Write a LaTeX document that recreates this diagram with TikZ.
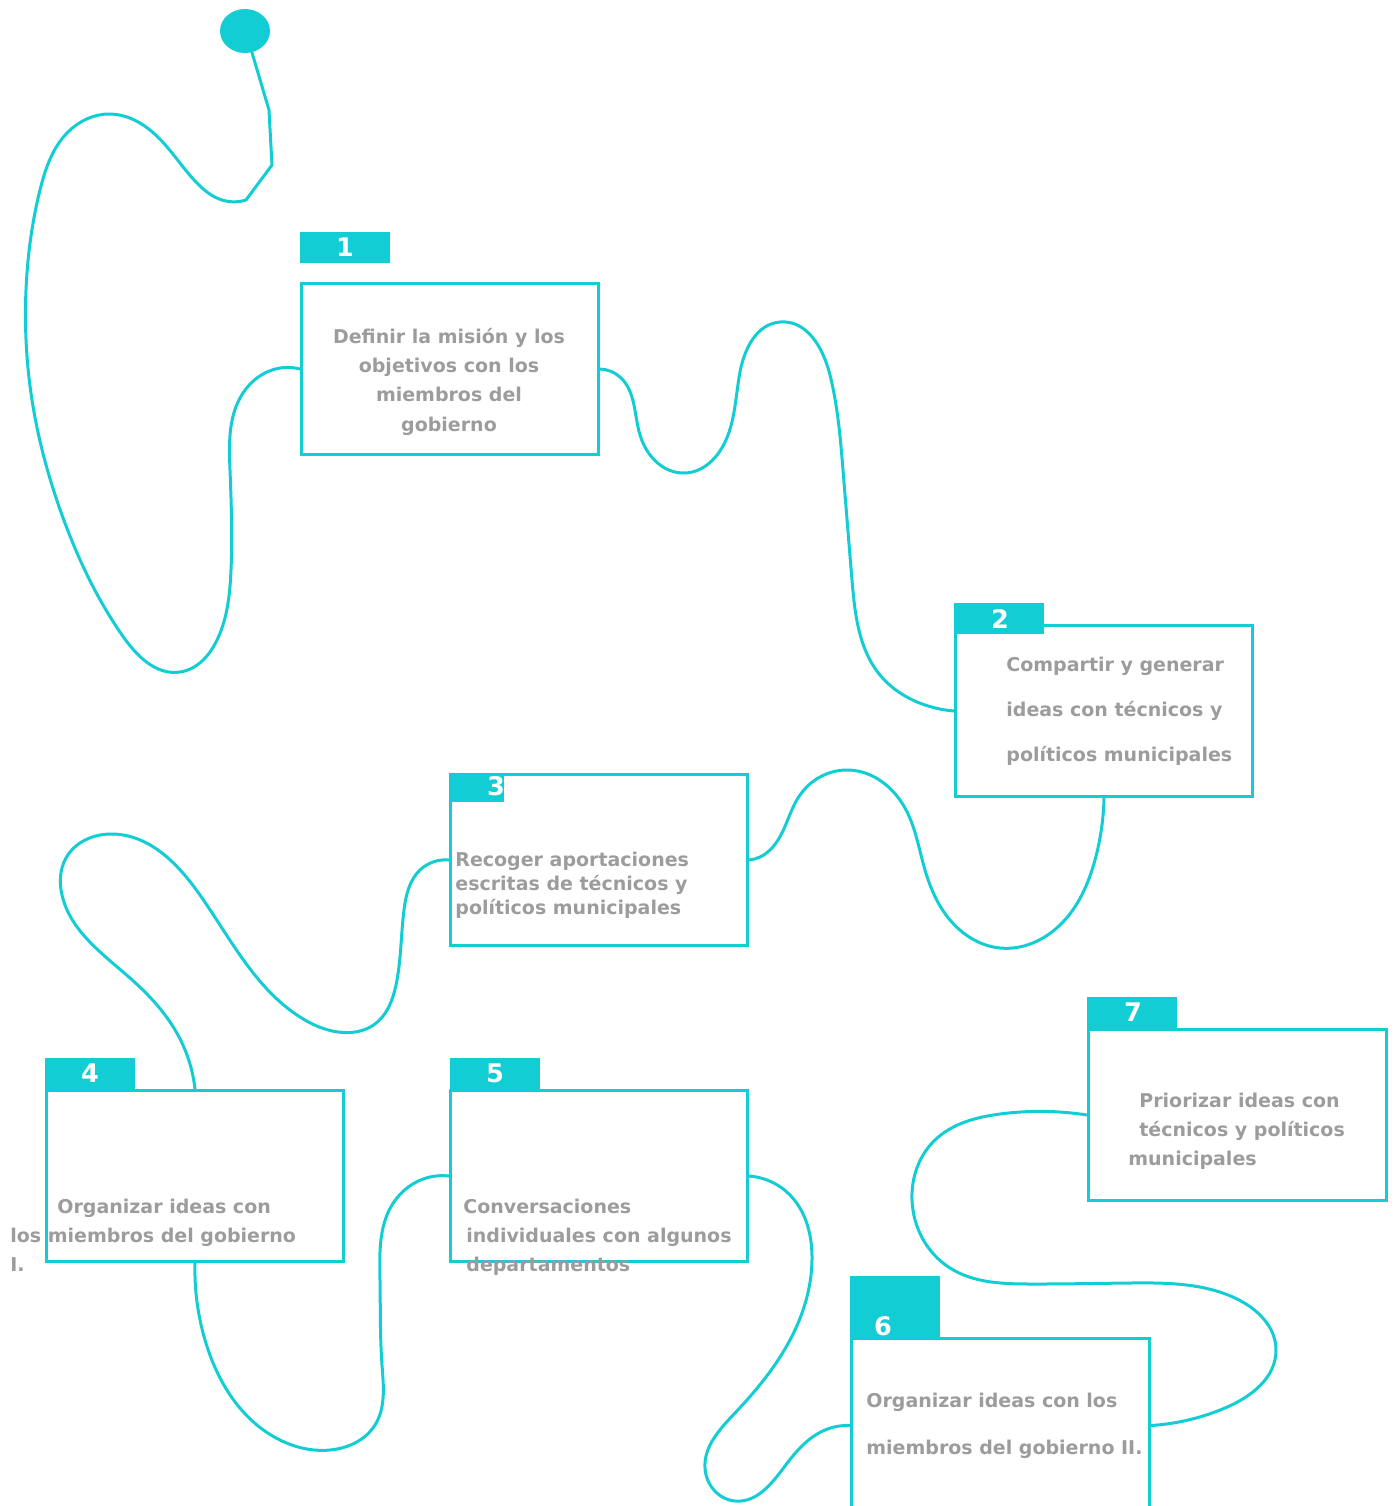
\documentclass[tikz,border=0pt]{standalone}
\usepackage{fontspec}
\setmainfont{DejaVu Sans}
\usetikzlibrary{shapes.geometric,hobby}
\definecolor{teal1}{HTML}{13CDD4}
\definecolor{greytxt}{HTML}{9C9C9C}
\begin{document}
\begin{tikzpicture}[x=0.5pt,y=-0.5pt,
  boxst/.style={draw=teal1, line width=1.5pt, minimum width=148.5pt, minimum height=85.5pt, anchor=north west, inner sep=0pt},
  tagst/.style={fill=teal1, anchor=north west, inner sep=0pt, minimum width=45pt, minimum height=15.5pt},
  numst/.style={text=white, font=\fontsize{12.8}{14}\selectfont\bfseries, inner sep=0pt},
  txt/.style={text=greytxt, font=\fontsize{9.5}{11}\selectfont\bfseries, inner sep=0pt, anchor=base west},
  txtc/.style={txt, anchor=base},
  link/.style={draw=teal1, line width=1.5pt, line join=round, line cap=round, use Hobby shortcut}]
\useasboundingbox (0,0) rectangle (1394,1506);

% start dot
\node[ellipse, fill=teal1, minimum width=25pt, minimum height=22pt, inner sep=0pt] (dot) at (245,31) {};
\coordinate (k) at (246,200);

% boxes
\node[boxst] (b1) at (300,282) {};
\node[boxst] (b2) at (954,624) {};
\node[boxst] (b3) at (449,773) {};
\node[boxst] (b4) at (45,1089) {};
\node[boxst] (b5) at (449,1089) {};
\node[boxst, minimum width=149pt, minimum height=87pt] (b6) at (850,1337) {};
\node[boxst, minimum width=149pt] (b7) at (1087,1028) {};

% number tags
\node[tagst] (g1) at (300,232) {};
\node[tagst] (g2) at (954,603) {};
\node[tagst, minimum width=27.5pt, minimum height=14.5pt] (g3) at (449,773) {};
\node[tagst] (g4) at (45,1058) {};
\node[tagst] (g5) at (450,1058) {};
\node[tagst, minimum height=30.5pt] (g6) at (850,1276) {};
\node[tagst] (g7) at (1087,997) {};

\node[numst] (n1) at (345,247) {1};
\node[numst] (n2) at (1000,619) {2};
\node[numst] (n3) at (496,786) {3};
\node[numst] (n4) at (90,1073) {4};
\node[numst] (n5) at (495,1073) {5};
\node[numst] (n6) at (883,1326) {6};
\node[numst] (n7) at (1133,1012) {7};

% texts
\node[txtc] (t1a) at (449,343) {Definir la misión y los};
\node[txtc] (t1b) at (449,372) {objetivos con los};
\node[txtc] (t1c) at (449,401) {miembros del};
\node[txtc] (t1d) at (449,431) {gobierno};

\node[txt] (t2a) at (1006,671) {Compartir y generar};
\node[txt] (t2b) at (1006,716) {ideas con técnicos y};
\node[txt] (t2c) at (1006,761) {políticos municipales};

\node[txt] (t3a) at (455,866) {Recoger aportaciones};
\node[txt] (t3b) at (455,890) {escritas de técnicos y};
\node[txt] (t3c) at (455,914) {políticos municipales};

\node[txt] (t4a) at (57,1213) {Organizar ideas con};
\node[txt] (t4b) at (10,1242) {los miembros del gobierno};
\node[txt] (t4c) at (10,1271) {I.};

\node[txt] (t5a) at (463,1213) {Conversaciones};
\node[txt] (t5b) at (466,1242) {individuales con algunos};
\node[txt] (t5c) at (466,1271) {departamentos};

\node[txt] (t6a) at (866,1407) {Organizar ideas con los};
\node[txt] (t6b) at (866,1454) {miembros del gobierno II.};

\node[txt] (t7a) at (1139,1107) {Priorizar ideas con};
\node[txt] (t7b) at (1139,1136) {técnicos y políticos};
\node[txt] (t7c) at (1128,1165) {municipales};

% connectors
\draw[draw=teal1, line width=1.5pt, line join=round, line cap=round] (dot.-72) -- (269,110) -- (272,165) -- (k);
\draw[link] (k) .. (222,200) .. (196,182) .. (150,130) .. (110,114) .. (68,132) .. (40,190) .. (26,290) .. (32,400) .. (62,515) .. (122,635) .. (180,672) .. (218,638) .. (231,570) .. (230,470) .. (240,398) .. (272,370) .. (b1.west);

\draw[link] (b1.east) .. (620,377) .. (640,435) .. (685,473) .. (726,440) .. (740,372) .. (780,322) .. (830,375) .. (843,470) .. (852,580) .. (880,675) .. (925,705) .. (b2.west);

\draw[link] (b2.south) .. (1095,860) .. (1060,925) .. (1000,948) .. (950,920) .. (925,870) .. (905,808) .. (848,770) .. (800,795) .. (778,840) .. (760,857) .. (b3.east);

\draw[link] (b3.west) .. (420,870) .. (404,910) .. (396,985) .. (375,1024) .. (338,1032) .. (300,1017) .. (200,895) .. (112,834) .. (66,858) .. (62,895) .. (130,978) .. (178,1035) .. (b4.north);

\draw[link] (b4.south) .. (205,1340) .. (280,1440) .. (330,1450) .. (375,1425) .. (382,1365) .. (380,1280) .. (392,1205) .. (430,1177) .. (b5.west);

\draw[link] (b5.east) .. (790,1195) .. (812,1260) .. (795,1330) .. (735,1413) .. (705,1468) .. (735,1501) .. (785,1466) .. (825,1430) .. (b6.west);

\draw[link] (b6.east) .. (1225,1408) .. (1276,1350) .. (1235,1298) .. (1130,1283) .. (1030,1284) .. (950,1268) .. (912,1200) .. (935,1140) .. (1000,1114) .. (b7.west);
\end{tikzpicture}
\end{document}
